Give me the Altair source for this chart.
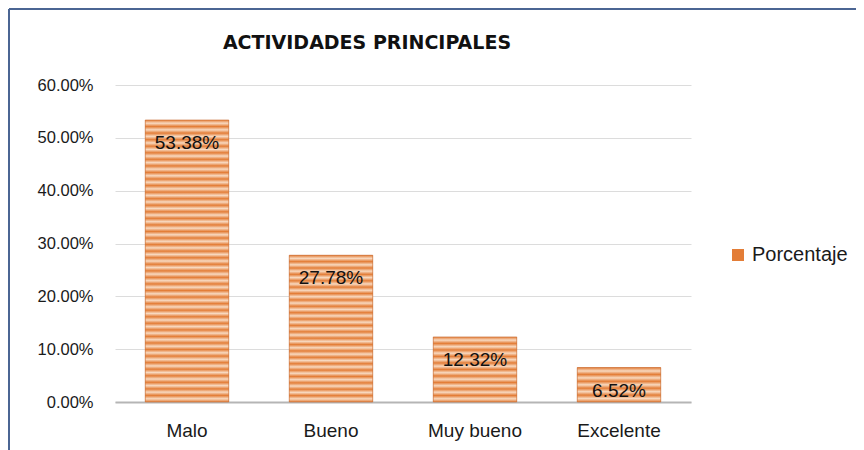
import altair as alt
import pandas as pd

categorias = ["Malo", "Bueno", "Muy bueno", "Excelente"]
porcentajes = [53.38, 27.78, 12.32, 6.52]
serie = "Porcentaje"
titulo = "ACTIVIDADES PRINCIPALES"
y_ticks = [0, 0.1, 0.2, 0.3, 0.4, 0.5, 0.6]

df = pd.DataFrame({
    "cat": categorias,
    "val": [v / 100 for v in porcentajes],
    "lbl": [f"{v:.2f}%" for v in porcentajes],
    "serie": [serie] * len(categorias),
})

W, H = 576, 317
PAD = {"left": 107, "top": 77, "right": 165, "bottom": 48}
ORANGE = "#e37d37"
LIGHT = "#f8d9c0"
FONT = "Liberation Sans"

xscale = alt.Scale(domain=categorias, paddingInner=0.42, paddingOuter=0.21)
yscale = alt.Scale(domain=[0, 0.6], nice=False)

base = alt.Chart(df).encode(
    x=alt.X("cat:N", scale=xscale, sort=categorias,
            axis=alt.Axis(title=None, labelAngle=0, labelFontSize=19, labelFont=FONT,
                          labelColor="#1a1a1a", labelPadding=19, ticks=False, grid=False,
                          domainColor="#b5b5b5", domainWidth=2)),
    y=alt.Y("val:Q", scale=yscale,
            axis=alt.Axis(title=None, values=y_ticks, format=".2%", labelFontSize=16.5,
                          labelFont=FONT, labelColor="#1a1a1a", labelPadding=22,
                          ticks=False, domain=False, grid=True, gridColor="#dcdcdc",
                          gridWidth=1)),
)

solid = base.mark_bar().encode(
    color=alt.Color("serie:N", scale=alt.Scale(range=[ORANGE]),
                    legend=alt.Legend(title=None, orient="none", legendX=613, legendY=160,
                                      symbolType="square", symbolSize=144,
                                      labelFontSize=20, labelFont=FONT,
                                      labelColor="#1a1a1a", symbolStrokeWidth=0))
)

layers = [solid]
for c, v in zip(categorias, porcentajes):
    hpx = v / 60 * H
    n = max(2, round(hpx / 6.5))
    stops = []
    for i in range(n):
        stops.append(alt.GradientStop(offset=i / n, color=ORANGE))
        stops.append(alt.GradientStop(offset=(i + 0.5) / n, color=LIGHT))
    stops.append(alt.GradientStop(offset=1, color=ORANGE))
    grad = alt.Gradient(gradient="linear", stops=stops, x1=0, x2=0, y1=0, y2=1)
    layers.append(
        base.transform_filter(alt.datum.cat == c).mark_bar(color=grad, stroke="#c8703a", strokeWidth=0.6)
    )

text = base.mark_text(dy=23, baseline="middle", align="center", fontSize=19, font=FONT,
                      color="#111111").encode(text="lbl:N")
layers.append(text)

title_mark = alt.Chart(pd.DataFrame({"t": [titulo]})).mark_text(
    fontSize=19, fontWeight="bold", font="DejaVu Sans", color="#111111", align="center",
    baseline="alphabetic").encode(text="t:N", x=alt.value(252), y=alt.value(-36))
layers.append(title_mark)

frame_top = alt.Chart(df).mark_rule(color="#4b6593", strokeWidth=2).encode(
    x=alt.value(-PAD["left"] + 1), x2=alt.value(W + PAD["right"] + 10), y=alt.value(-PAD["top"] + 1))
frame_left = alt.Chart(df).mark_rule(color="#4b6593", strokeWidth=2).encode(
    x=alt.value(-PAD["left"] + 1), y=alt.value(-PAD["top"] + 1), y2=alt.value(H + PAD["bottom"] + 10))
layers += [frame_top, frame_left]

chart = alt.layer(*layers).properties(
    width=W, height=H,
    padding=PAD,
    background="white",
    autosize=alt.AutoSizeParams(type="none"),
).configure_view(stroke="transparent", strokeWidth=0)

chart.save("out.html", embed_options={"renderer": "svg", "actions": False})
